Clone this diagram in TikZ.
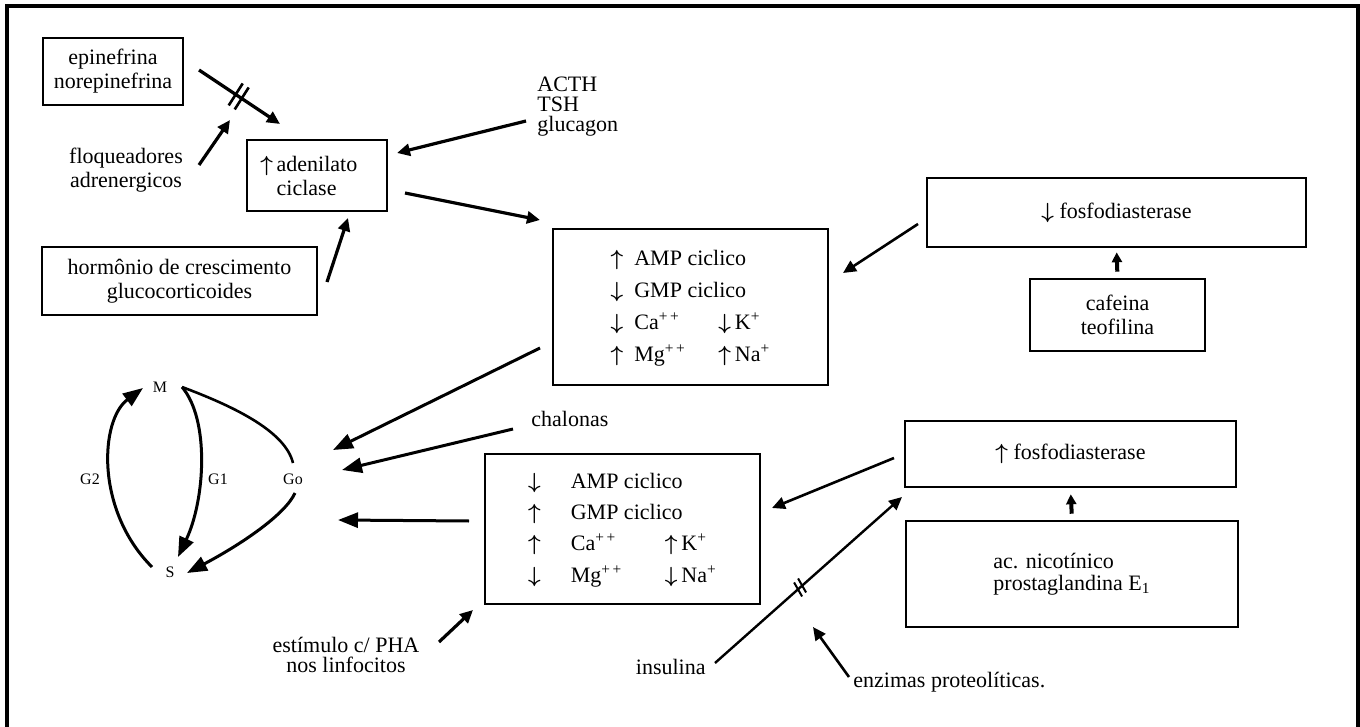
\documentclass[tikz,border=0pt]{standalone}
\usepackage{fontspec}
\setmainfont{Liberation Serif}
\usepackage{amsmath}
\usetikzlibrary{positioning}
\usetikzlibrary{arrows.meta}

\newcommand{\arrup}{$\boldsymbol{\uparrow}$}
\newcommand{\arrdn}{$\boldsymbol{\downarrow}$}

\begin{document}
\begin{tikzpicture}[
	x=0.5pt, y=-0.5pt,
	font=\fontsize{11}{12}\selectfont,
	caixa/.style={draw, line width=1.3pt, inner sep=0pt},
	rotulo/.style={inner sep=0pt, align=center},
	fase/.style={inner sep=1pt, font=\fontsize{8}{9}\selectfont},
	seta/.style={line width=1.6pt, -{Triangle[length=6.5pt,width=6pt]}},
	setagrande/.style={line width=1.5pt, -{Triangle[length=10pt,width=7.5pt]}},
	setacurta/.style={line width=2pt, -{Triangle[length=5pt,width=5pt]}},
	ciclo/.style={line width=1.3pt},
	corte/.style={line width=1.3pt},
	]
	
	% ------------------------------------------------
	% Page size and outer frame (open at the bottom)
	\useasboundingbox (0,0) rectangle (1360,727);
	\draw[line width=1.6pt] (7,727) -- (7,6) -- (1358,6) -- (1358,727);
	
	% ------------------------------------------------
	% Boxes
	\node[caixa, align=center, minimum width=70pt, minimum height=33.5pt] (Epi) at (113,71.5) {epinefrina\\norepinefrina};
	\node[caixa, align=left, minimum width=70pt, minimum height=35.5pt] (Adenil) at (317,175.5) {\llap{\arrup\,}adenilato\\ciclase};
	\node[caixa, align=center, minimum width=137.5pt, minimum height=34pt] (Horm) at (179.5,281) {hormônio de crescimento\\glucocorticoides};
	
	\node[caixa, minimum width=137.5pt, minimum height=78pt] (AmpAlto) at (690.5,307) {%
		\renewcommand{\arraystretch}{1.33}%
		\begin{tabular}{@{}c@{\hspace{5.5pt}}p{42pt}@{}c@{\hspace{2pt}}l@{}}
			\arrup & \multicolumn{3}{@{}l@{}}{AMP ciclico}\\
			\arrdn & \multicolumn{3}{@{}l@{}}{GMP ciclico}\\
			\arrdn & Ca\textsuperscript{+\,+} & \arrdn & K\textsuperscript{+}\\
			\arrup & Mg\textsuperscript{+\,+} & \arrup & Na\textsuperscript{+}
		\end{tabular}};
	
	\node[caixa, minimum width=137.5pt, minimum height=75pt] (AmpBaixo) at (622.5,529) {%
		\renewcommand{\arraystretch}{1.3}%
		\begin{tabular}{@{}c@{\hspace{15pt}}p{47pt}@{}c@{\hspace{2pt}}l@{}}
			\arrdn & \multicolumn{3}{@{}l@{}}{AMP ciclico}\\
			\arrup & \multicolumn{3}{@{}l@{}}{GMP ciclico}\\
			\arrup & Ca\textsuperscript{+\,+} & \arrup & K\textsuperscript{+}\\
			\arrdn & Mg\textsuperscript{+\,+} & \arrdn & Na\textsuperscript{+}
		\end{tabular}};
	
	\node[caixa, minimum width=189.5pt, minimum height=34.5pt] (FosDn) at (1116.5,212.5) {\arrdn\ fosfodiasterase};
	\node[caixa, align=center, minimum width=87.5pt, minimum height=36pt] (Cafe) at (1117.5,315) {cafeina\\teofilina};
	\node[caixa, minimum width=165.5pt, minimum height=33pt] (FosUp) at (1070.5,454) {\arrup\ fosfodiasterase};
	\node[caixa, align=left, minimum width=166pt, minimum height=53pt, font=\fontsize{11}{11}\selectfont] (Nicot) at (1072,574) {ac. nicotínico\\prostaglandina E\textsubscript{1}};
	
	% ------------------------------------------------
	% Free labels
	\node[rotulo] (Floq) at (126,170) {floqueadores\\adrenergicos};
	\node[rotulo, anchor=west, align=left, font=\fontsize{11}{10}\selectfont] (Acth) at (537,107) {ACTH\\TSH\\glucagon};
	\node[rotulo, anchor=west] (Chal) at (531,419) {chalonas};
	\node[rotulo, font=\fontsize{11}{10}\selectfont] (Estim) at (346,655) {estímulo c/ PHA\\nos linfocitos};
	\node[rotulo, anchor=east] (Insul) at (706,667) {insulina};
	\node[rotulo, anchor=west] (Enzim) at (853,682) {enzimas proteolíticas.};
	
	% ------------------------------------------------
	% Cell cycle
	\node[fase] (M)  at (160,387) {M};
	\node[fase] (S)  at (170,572) {S};
	\node[fase] (G2) at (90,479)  {G2};
	\node[fase] (G1) at (218,479) {G1};
	\node[fase] (Go) at (293,479) {Go};
	
	\path (M)  +(-17,1)  coordinate (MEsq);
	\path (M)  +(22,0)   coordinate (MDir);
	\path (S)  +(-18,-5) coordinate (SEsq);
	\path (S)  +(8,-15)  coordinate (STopo);
	\path (S)  +(17,1)   coordinate (SDir);
	\path (Go) +(0,-16)  coordinate (GoTopo);
	\path (Go) +(2,14)   coordinate (GoBase);
	
	\draw[ciclo, setagrande] (SEsq) .. controls (95,510) and (100,420) .. (MEsq);
	\draw[ciclo, setagrande] (MDir) .. controls (210,420) and (205,500) .. (STopo);
	\draw[ciclo] (MDir) .. controls (230,405) and (285,430) .. (GoTopo);
	\draw[ciclo, setagrande] (GoBase) .. controls (285,515) and (240,545) .. (SDir);
	
	% ------------------------------------------------
	% Ends of the arrows
	\coordinate (EpiIni)   at (199,70);
	\coordinate (EpiFim)   at (280,124);
	\coordinate (FloqIni)  at (199,165);
	\coordinate (FloqFim)  at (230,120);
	\coordinate (HormIni)  at (327,282);
	\coordinate (HormFim)  at (348,218);
	\coordinate (ActhIni)  at (526,121);
	\coordinate (ActhFim)  at (397,153);
	\coordinate (AdenIni)  at (405,193);
	\coordinate (AdenFim)  at (540,220);
	\coordinate (FosDnIni) at (918,224);
	\coordinate (FosDnFim) at (843,273);
	\coordinate (AltoIni)  at (540,348);
	\coordinate (AltoFim)  at (333,450);
	\coordinate (ChalIni)  at (513,429);
	\coordinate (ChalFim)  at (342,470);
	\coordinate (BaixoIni) at (469,521);
	\coordinate (BaixoFim) at (338,520);
	\coordinate (EstIni)   at (439,642);
	\coordinate (EstFim)   at (473,610);
	\coordinate (FosUpIni) at (894,458);
	\coordinate (FosUpFim) at (772,508);
	\coordinate (InsIni)   at (715,663);
	\coordinate (InsFim)   at (902,497);
	\coordinate (EnzIni)   at (849,677);
	\coordinate (EnzFim)   at (813,627);
	
	% ------------------------------------------------
	% Arrows
	\draw[seta] (EpiIni) -- coordinate[pos=0.49] (EpiCorte) (EpiFim);
	\draw[corte] (EpiCorte) ++(-3,-2) +(-7,11) -- +(7,-11);
	\draw[corte] (EpiCorte) ++(3,2) +(-7,11) -- +(7,-11);
	\draw[seta] (FloqIni) -- (FloqFim);
	\draw[seta] (HormIni) -- (HormFim);
	\draw[seta] (ActhIni) -- (ActhFim);
	\draw[seta] (AdenIni) -- (AdenFim);
	\draw[seta, line width=1.3pt] (FosDnIni) -- (FosDnFim);
	\draw[setacurta, shorten <=3pt, shorten >=2pt] (Cafe.north) -- (FosDn.south);
	
	\draw[setagrande] (AltoIni) -- (AltoFim);
	\draw[setagrande] (ChalIni) -- (ChalFim);
	\draw[setagrande] (BaixoIni) -- (BaixoFim);
	\draw[seta] (EstIni) -- (EstFim);
	
	\draw[seta, line width=1.3pt] (FosUpIni) -- (FosUpFim);
	\draw[seta, line width=1.2pt] (InsIni) -- coordinate[pos=0.455] (InsCorte) (InsFim);
	\draw[corte, line width=1pt] (InsCorte) ++(-2,2) +(-4,-7) -- +(4,7);
	\draw[corte, line width=1pt] (InsCorte) ++(2,-2) +(-4,-7) -- +(4,7);
	\draw[setacurta, shorten <=3pt, shorten >=3pt] (Nicot.north) -- (FosUp.south);
	\draw[seta, line width=1.3pt] (EnzIni) -- (EnzFim);
	
\end{tikzpicture}
\end{document}
